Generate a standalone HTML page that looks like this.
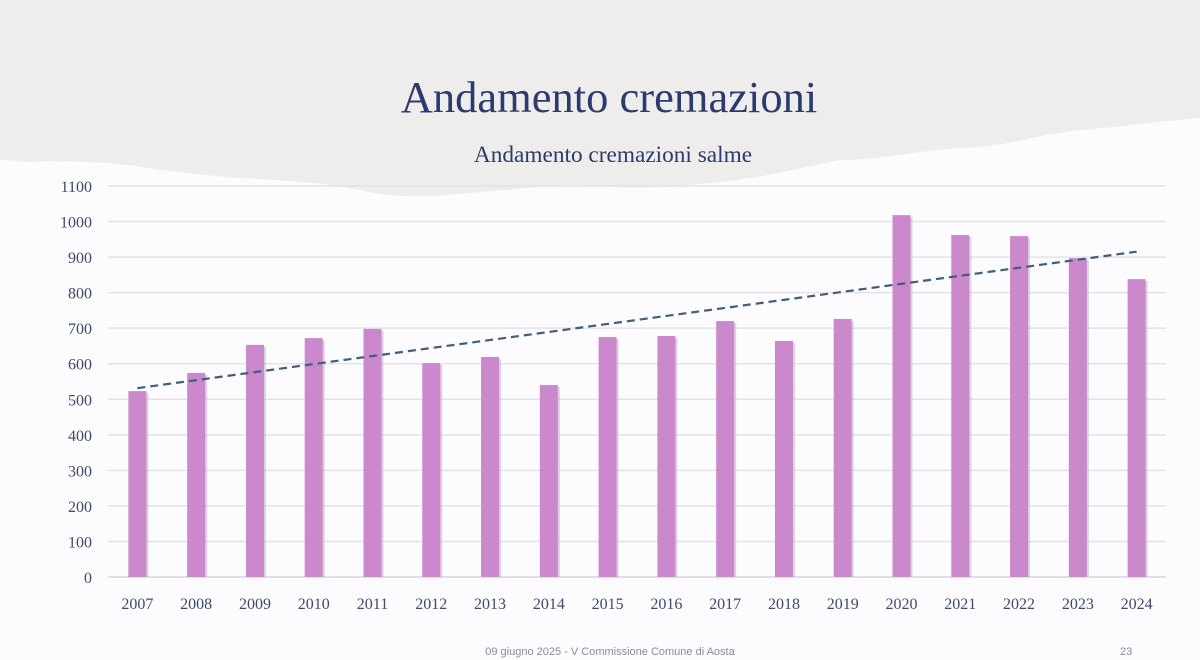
<!DOCTYPE html>
<html><head><meta charset="utf-8"><style>
body{margin:0;width:1200px;height:660px;overflow:hidden;background:#fcfbfd;font-family:"Liberation Serif",serif}
svg{display:block}
</style></head><body>
<svg width="1200" height="660">
<path d="M0,0 H1200 V118 C1150,122 1110,128 1080,130 C1040,134 1000,148 960,148 C920,150 880,160 840,160 C800,168 760,178 720,182 C680,186 640,190 600,186 C560,182 520,190 480,192 C440,196 400,200 360,190 C320,182 280,180 240,178 C200,175 160,170 130,165 C100,162 60,160 30,162 L0,160 Z" fill="#eeedeb"/>
<text x="609" y="112" text-anchor="middle" font-size="44.5" fill="#2c3a6e">Andamento cremazioni</text>
<text x="613" y="162" text-anchor="middle" font-size="23.3" fill="#2c3a6e">Andamento cremazioni salme</text>
<g id="grid"></g><g id="bars"></g><g id="trend"></g><g id="labels"></g>
<text x="610" y="655" text-anchor="middle" font-family="Liberation Sans,sans-serif" font-size="11" fill="#8a8a9a">09 giugno 2025 - V Commissione Comune di Aosta</text>
<text x="1120" y="655" font-family="Liberation Sans,sans-serif" font-size="11" fill="#8a8a9a">23</text>
</svg>
<script>
const years=["2007","2008","2009","2010","2011","2012","2013","2014","2015","2016","2017","2018","2019","2020","2021","2022","2023","2024"];
const values=[523,574,653,672,698,602,619,540,675,678,720,664,726,1018,962,959,897,838];
const yTicks=[0,100,200,300,400,500,600,700,800,900,1000,1100];
const NS="http://www.w3.org/2000/svg";
const x0=108,x1=1166,y0=577,yTop=186;
const step=(x1-x0)/years.length;
const xc=i=>x0+step*(i+0.5);
const y=v=>y0-(v/1100)*(y0-yTop);
function mk(t,a,p){const e=document.createElementNS(NS,t);for(const k in a)e.setAttribute(k,a[k]);document.getElementById(p).appendChild(e);return e;}
yTicks.forEach(v=>{
 const l=mk('line',{x1:x0,x2:x1,y1:y(v),y2:y(v),stroke:v?'#e4e2e6':'#d8d6da','stroke-width':1.5},'grid');
 
 
 const t=mk('text',{x:92,y:y(v)+6,'text-anchor':'end','font-size':16,fill:'#3c4a6e'},'labels');
 t.textContent=v;
 
 
});
values.forEach((v,i)=>{
 const s=mk('rect',{x:xc(i)-7,y:y(v)+2,width:18,height:y0-y(v)-2,fill:'#b8b0bc',opacity:0.5},'bars');
 
 
 const r=mk('rect',{x:xc(i)-9,y:y(v),width:18,height:y0-y(v),fill:'#cc88cc'},'bars');
 
 
 const t=mk('text',{x:xc(i),y:609,'text-anchor':'middle','font-size':16,fill:'#3c4a6e'},'labels');
 t.textContent=years[i];
 
 
});
const n=values.length;let sx=0,sy=0,sxy=0,sxx=0;
values.forEach((v,i)=>{sx+=i;sy+=v;sxy+=i*v;sxx+=i*i;});
const b=(n*sxy-sx*sy)/(n*sxx-sx*sx),a=(sy-b*sx)/n;
const tl=mk('line',{x1:xc(0),y1:y(a),x2:xc(n-1),y2:y(a+b*(n-1)),stroke:'#3f5f7a','stroke-width':2.2,'stroke-dasharray':'8,5'},'trend');


</script>
</body></html>
